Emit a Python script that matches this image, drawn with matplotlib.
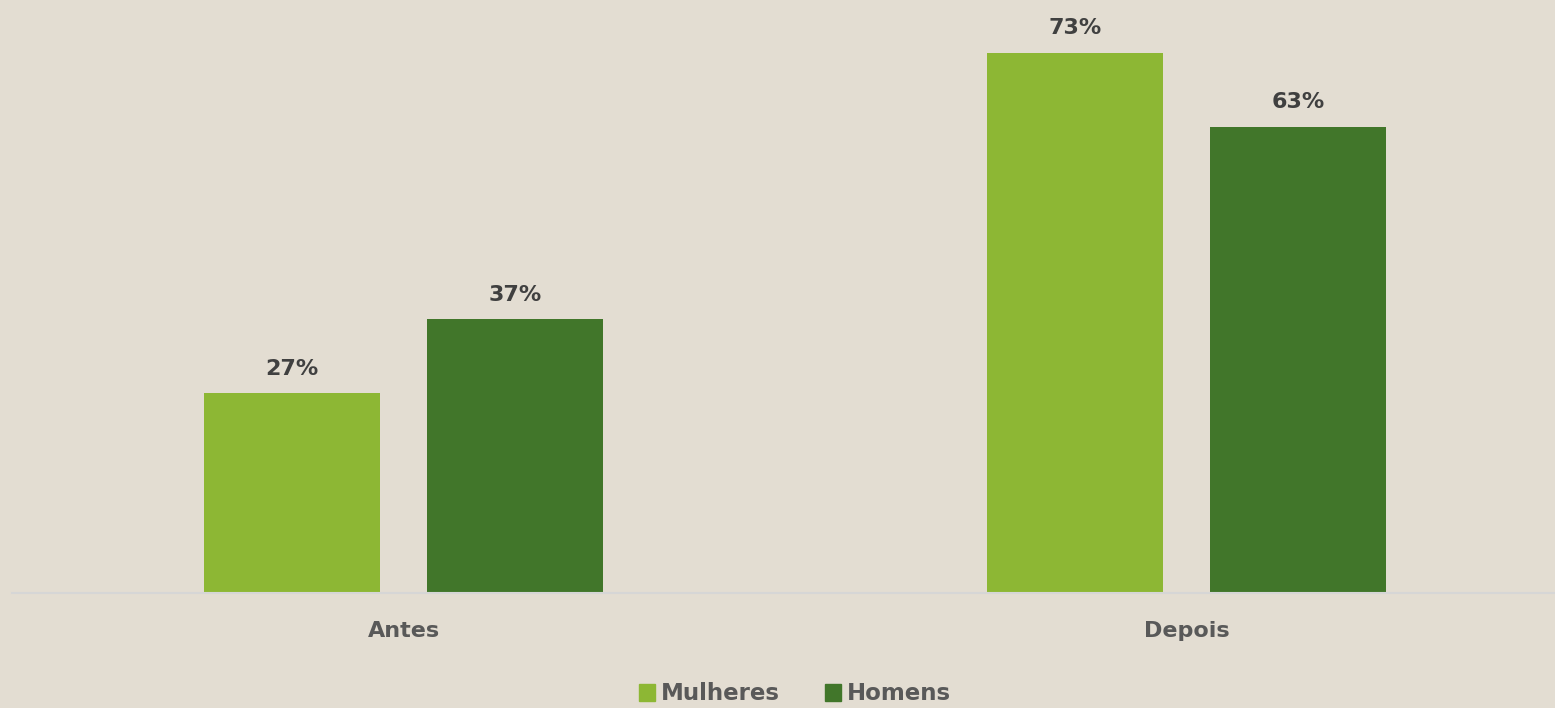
import matplotlib.pyplot as plt
from matplotlib.patches import Patch
import numpy as np

categories = ['Antes', 'Depois']
series_names = ['Mulheres', 'Homens']
mulheres = [27, 73]
homens = [37, 63]

bg = '#E3DDD2'
colors = ['#8DB734', '#41762A']

plt.rcParams['font.family'] = ['DejaVu Sans']

fig = plt.figure(figsize=(15.55, 7.08), dpi=100, facecolor=bg)
ax = fig.add_axes([12 / 1555, 1 - 593 / 708, 1543 / 1555, 590 / 708])
ax.set_facecolor(bg)

x = np.arange(len(categories))
width = 0.2248
offset = 0.1424
for vals, off, col in [(mulheres, -offset, colors[0]), (homens, offset, colors[1])]:
    bars = ax.bar(x + off, vals, width, color=col)
    for b, v in zip(bars, vals):
        ax.text(b.get_x() + b.get_width() / 2, v + 2.0, f'{v}%', ha='center', va='bottom',
                fontsize=16, fontweight='bold', color='#404040')

ax.set_xlim(-0.5, (1555 - 403.5) / 783)
ax.set_ylim(0, 79.8)
ax.set_yticks([])
ax.set_xticks(x)
ax.set_xticklabels(categories, fontsize=16, fontweight='bold', color='#595959')
ax.tick_params(axis='x', length=0, pad=20)
for s in ['top', 'right', 'left']:
    ax.spines[s].set_visible(False)
ax.spines['bottom'].set_color('#D6D6D6')
ax.spines['bottom'].set_linewidth(1.5)

handles = [Patch(color=c) for c in colors]
fig.legend(handles, series_names, loc='center', bbox_to_anchor=(795 / 1555, 1 - 694 / 708), ncol=2,
           frameon=False, prop={'size': 16.5, 'weight': 'bold'}, labelcolor='#595959',
           handlelength=0.7, handleheight=0.7, handletextpad=0.25, columnspacing=2.0)

fig.savefig('out.png', dpi=100, facecolor=bg)
